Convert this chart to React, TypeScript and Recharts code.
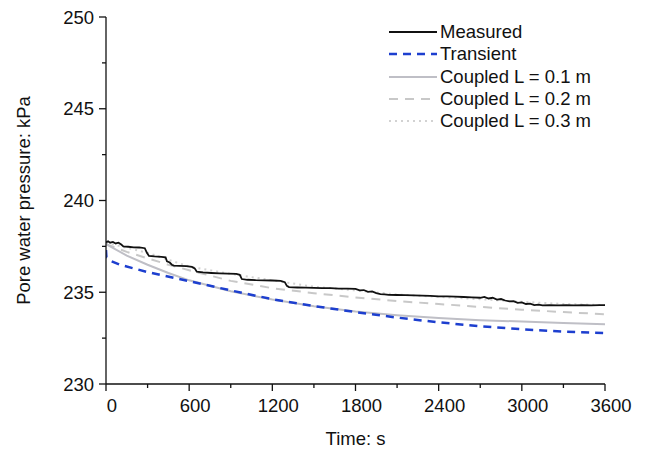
import { LineChart, Line, XAxis, YAxis, Legend } from "recharts";

// time (s), pore water pressure (kPa)
const measured: [number, number][] = [
  [0, 237.72], [15, 237.78], [30, 237.7], [50, 237.74], [70, 237.66], [90, 237.7],
  [110, 237.6], [125, 237.5], [160, 237.48], [200, 237.45], [240, 237.44], [280, 237.4],
  [295, 237.15], [310, 236.98], [350, 236.95], [400, 236.93], [430, 236.9], [440, 236.68],
  [460, 236.62], [475, 236.5], [490, 236.45], [530, 236.44], [580, 236.42], [620, 236.38],
  [640, 236.3], [655, 236.12], [700, 236.08], [760, 236.05], [820, 236.03], [880, 236.02],
  [940, 236.0], [965, 235.95], [980, 235.72], [1020, 235.68], [1080, 235.66], [1140, 235.65],
  [1200, 235.64], [1260, 235.62], [1290, 235.55], [1305, 235.35], [1320, 235.28], [1380, 235.26],
  [1440, 235.25], [1500, 235.24], [1560, 235.22], [1620, 235.22], [1680, 235.2], [1740, 235.2],
  [1800, 235.18], [1830, 235.1], [1860, 235.12], [1890, 235.02], [1920, 235.05], [1950, 234.95],
  [1980, 234.9], [2010, 234.88], [2040, 234.86], [2100, 234.85], [2160, 234.84], [2220, 234.83],
  [2280, 234.82], [2340, 234.8], [2400, 234.78], [2460, 234.77], [2520, 234.76], [2580, 234.74],
  [2640, 234.72], [2700, 234.7], [2730, 234.75], [2760, 234.66], [2790, 234.7], [2820, 234.6],
  [2850, 234.63], [2880, 234.55], [2910, 234.5], [2940, 234.52], [2970, 234.42], [3000, 234.45],
  [3030, 234.36], [3060, 234.38], [3090, 234.3], [3120, 234.32], [3150, 234.28], [3200, 234.3],
  [3260, 234.28], [3320, 234.3], [3380, 234.29], [3440, 234.3], [3500, 234.28], [3560, 234.3],
  [3600, 234.3],
];

const transient: [number, number][] = [
  [0, 237.3], [3, 236.9], [30, 236.72], [100, 236.5], [300, 236.1], [600, 235.6],
  [900, 235.1], [1200, 234.62], [1500, 234.25], [1800, 233.92], [2100, 233.62],
  [2400, 233.36], [2700, 233.15], [3000, 232.98], [3300, 232.85], [3600, 232.78],
];

const coupled01: [number, number][] = [
  [0, 237.62], [150, 237.0], [300, 236.5], [450, 236.05], [600, 235.65], [900, 235.05],
  [1200, 234.6], [1500, 234.24], [1800, 233.95], [2100, 233.75], [2400, 233.6],
  [2700, 233.48], [3000, 233.4], [3300, 233.32], [3600, 233.25],
];

const coupled02: [number, number][] = [
  [0, 237.62], [150, 237.2], [300, 236.85], [450, 236.5], [600, 236.2], [900, 235.62],
  [1200, 235.22], [1500, 234.95], [1800, 234.72], [2100, 234.52], [2400, 234.36],
  [2700, 234.2], [3000, 234.05], [3300, 233.92], [3600, 233.8],
];

const coupled03: [number, number][] = [
  [0, 237.7], [300, 237.15], [600, 236.4], [900, 236.0], [1200, 235.65], [1500, 235.3],
  [1800, 235.1], [2100, 234.88], [2400, 234.75], [2700, 234.62], [3000, 234.48],
  [3300, 234.36], [3600, 234.3],
];

const xTicks = [0, 300, 600, 900, 1200, 1500, 1800, 2100, 2400, 2700, 3000, 3300, 3600];
const yTicks = [230, 232.5, 235, 237.5, 240, 242.5, 245, 247.5, 250];

const series = [
  { name: "Coupled L = 0.3 m", points: coupled03, color: "#d2d2d2", dash: "2 4", width: 2 },
  { name: "Coupled L = 0.2 m", points: coupled02, color: "#c8c8c8", dash: "9 7", width: 2 },
  { name: "Coupled L = 0.1 m", points: coupled01, color: "#bfbfc6", dash: undefined, width: 2 },
  { name: "Transient", points: transient, color: "#1d3fcf", dash: "8 6", width: 2.5 },
  { name: "Measured", points: measured, color: "#111111", dash: undefined, width: 1.8 },
];

const legendOrder = ["Measured", "Transient", "Coupled L = 0.1 m", "Coupled L = 0.2 m", "Coupled L = 0.3 m"];

const font = "'Liberation Sans', Arial, sans-serif";
const fs = 18.5;

const XTick = ({ x, y, payload }: any) => {
  const major = payload.value % 600 === 0;
  return (
    <g>
      <line x1={x} x2={x} y1={y} y2={y + (major ? 7 : 4)} stroke="#111" strokeWidth={1.3} />
      {major && (
        <text x={x + 6} y={y + 27.5} textAnchor="middle" fontSize={fs} fill="#111" fontFamily={font}>
          {payload.value}
        </text>
      )}
    </g>
  );
};

const YTick = ({ x, y, payload }: any) => {
  const major = payload.value % 5 === 0;
  return (
    <g>
      <line x1={x - (major ? 7 : 4)} x2={x} y1={y} y2={y} stroke="#111" strokeWidth={1.3} />
      {major && (
        <text x={x - 12} y={y + 6.5} textAnchor="end" fontSize={fs} fill="#111" fontFamily={font}>
          {payload.value}
        </text>
      )}
    </g>
  );
};

const LegendBox = () => (
  <div style={{ fontFamily: font, fontSize: fs, color: "#111" }}>
    {legendOrder.map((n) => {
      const s = series.find((d) => d.name === n)!;
      return (
        <div key={n} style={{ display: "flex", alignItems: "center", height: 22.3 }}>
          <svg width={50} height={10} style={{ marginRight: 1 }}>
            <line x1={0} x2={48} y1={5} y2={5} stroke={s.color} strokeWidth={s.width} strokeDasharray={s.dash} />
          </svg>
          <span>{n}</span>
        </div>
      );
    })}
  </div>
);

export default function App() {
  return (
    <div style={{ position: "absolute", left: 0, top: 0, background: "#fff" }}>
      <LineChart width={648} height={449} margin={{ top: 17, right: 43, bottom: 0, left: 0 }}>
        <XAxis
          type="number"
          dataKey="t"
          domain={[0, 3600]}
          ticks={xTicks}
          height={65}
          tickSize={0}
          tickMargin={0}
          tickLine={false}
          tick={<XTick />}
          axisLine={{ stroke: "#111", strokeWidth: 1.3 }}
          allowDataOverflow
          label={{
            content: ({ viewBox }: any) => (
              <text x={viewBox.x + viewBox.width / 2} y={445} textAnchor="middle" fontSize={fs} fill="#111" fontFamily={font}>
                Time: s
              </text>
            ),
          }}
        />
        <YAxis
          type="number"
          domain={[230, 250]}
          ticks={yTicks}
          width={106}
          tickSize={0}
          tickMargin={0}
          tickLine={false}
          tick={<YTick />}
          axisLine={{ stroke: "#111", strokeWidth: 1.3 }}
          allowDataOverflow
          label={{
            content: ({ viewBox }: any) => {
              const cy = viewBox.y + viewBox.height / 2;
              return (
                <text x={30} y={cy} transform={`rotate(-90, 30, ${cy})`} textAnchor="middle" fontSize={fs} fill="#111" fontFamily={font}>
                  Pore water pressure: kPa
                </text>
              );
            },
          }}
        />
        <Legend
          layout="vertical"
          align="center"
          verticalAlign="middle"
          content={() => <LegendBox />}
          wrapperStyle={{ left: 389, top: 21, width: 230 }}
        />
        {series.map((s) => (
          <Line
            key={s.name}
            name={s.name}
            data={s.points.map(([t, v]) => ({ t, v }))}
            dataKey="v"
            type="linear"
            stroke={s.color}
            strokeWidth={s.width}
            strokeDasharray={s.dash}
            dot={false}
            activeDot={false}
            isAnimationActive={false}
          />
        ))}
      </LineChart>
    </div>
  );
}
